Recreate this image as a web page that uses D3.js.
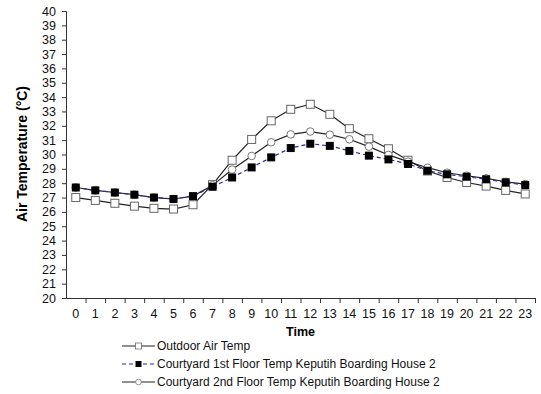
<!DOCTYPE html>
<html>
<head>
<meta charset="utf-8">
<script src="https://cdn.jsdelivr.net/npm/d3@7"></script>
<style>
  body { margin: 0; background: #fff; }
  svg { font-family: "Liberation Sans", Arial, sans-serif; }
</style>
</head>
<body>
<svg id="chart" width="541" height="394"></svg>
<script>
// hours of the day
var hours = d3.range(0, 24);
var yTicks = d3.range(20, 41);

var outdoorTemp = [27.0, 26.8, 26.6, 26.4, 26.25, 26.2, 26.5, 27.9, 29.6, 31.05, 32.35, 33.15, 33.5, 32.8, 31.8,
                   31.1, 30.4, 29.6, 28.85, 28.4, 28.05, 27.8, 27.5, 27.25];
var floor1Temp = [27.7, 27.5, 27.35, 27.2, 27.0, 26.9, 27.1, 27.75, 28.4, 29.1, 29.8, 30.45, 30.75, 30.6, 30.25,
                  29.92, 29.66, 29.34, 28.87, 28.62, 28.45, 28.27, 28.06, 27.87];
var floor2Temp = [27.7, 27.5, 27.35, 27.2, 27.0, 26.9, 27.1, 27.85, 28.95, 29.9, 30.85, 31.4, 31.6, 31.38, 31.06,
                  30.55, 29.97, 29.5, 29.08, 28.73, 28.52, 28.34, 28.1, 27.94];

var seriesNames = ["Outdoor Air Temp",
                   "Courtyard 1st Floor Temp Keputih Boarding House 2",
                   "Courtyard 2nd Floor Temp Keputih Boarding House 2"];

var margin = {top: 11, right: 6, bottom: 96, left: 66},
    width = 541,
    height = 394,
    innerW = width - margin.left - margin.right,
    innerH = height - margin.top - margin.bottom;

var svg = d3.select("#chart");
var g = svg.append("g").attr("transform", "translate(" + margin.left + "," + margin.top + ")");

var x = d3.scaleBand().domain(hours).range([0, innerW]).padding(0);
var xEdge = d3.scaleLinear().domain([0, 24]).range([0, innerW]);
var y = d3.scaleLinear().domain([20, 40]).range([innerH, 0]);
var cx = function(i) { return x(i) + x.bandwidth() / 2; };

// y axis
var yAx = g.append("g")
    .call(d3.axisLeft(y).tickValues(yTicks).tickSize(4).tickPadding(6).tickFormat(d3.format("d")));
yAx.select(".domain").attr("stroke", "#333");
yAx.selectAll(".tick line").attr("stroke", "#333");
yAx.selectAll("text").attr("font-size", 12.5).attr("fill", "#111");

// x axis: ticks on category edges, labels centred
var xAx = g.append("g").attr("transform", "translate(0," + innerH + ")")
    .call(d3.axisBottom(xEdge).tickValues(d3.range(0, 25)).tickSize(5).tickFormat(""));
xAx.select(".domain").attr("d", "M0,0.5H" + innerW).attr("stroke", "#333");
xAx.selectAll(".tick line").attr("stroke", "#333");
xAx.selectAll(".tick").filter(function(d) { return d === 0; }).remove();

var xLab = g.append("g").attr("transform", "translate(0," + innerH + ")")
    .call(d3.axisBottom(x).tickSize(0).tickPadding(11));
xLab.select(".domain").remove();
xLab.selectAll("text").attr("font-size", 12.5).attr("fill", "#111");

// axis titles
g.append("text")
    .attr("x", innerW / 2).attr("y", innerH + 38)
    .attr("text-anchor", "middle")
    .attr("font-size", 12.5).attr("font-weight", "bold")
    .text("Time");

svg.append("text")
    .attr("transform", "translate(27," + 154 + ") rotate(-90)")
    .attr("text-anchor", "middle")
    .attr("font-size", 14).attr("font-weight", "bold")
    .text("Air Temperature (°C)");

var line = d3.line().x(function(d, i) { return cx(i); }).y(function(d) { return y(d); });

// markers
function squareOpen(sel) {
    sel.append("rect").attr("width", 8).attr("height", 8).attr("x", -4).attr("y", -4)
        .attr("fill", "#fff").attr("stroke", "#666").attr("stroke-width", 1);
}
function squareFilled(sel) {
    sel.append("rect").attr("width", 8).attr("height", 8).attr("x", -4).attr("y", -4)
        .attr("fill", "#000");
}
function circleOpen(sel) {
    sel.append("circle").attr("r", 3.8)
        .attr("fill", "#fff").attr("stroke", "#777").attr("stroke-width", 1);
}

var series = [
    {name: seriesNames[0], values: outdoorTemp, stroke: "#222", dash: null, marker: squareOpen},
    {name: seriesNames[2], values: floor2Temp, stroke: "#222", dash: null, marker: circleOpen},
    {name: seriesNames[1], values: floor1Temp, stroke: "#2a2aa0", dash: "4,3", marker: squareFilled}
];

series.forEach(function(s) {
    g.append("path").datum(s.values)
        .attr("fill", "none").attr("stroke", s.stroke).attr("stroke-width", 1.2)
        .attr("stroke-dasharray", s.dash)
        .attr("d", line);
    g.append("g").selectAll("g").data(s.values).enter().append("g")
        .attr("transform", function(d, i) { return "translate(" + cx(i) + "," + y(d) + ")"; })
        .call(s.marker);
});

// legend
var legendOrder = [series[0], series[2], series[1]];
var legend = svg.append("g").attr("transform", "translate(122,346)");
legendOrder.forEach(function(s, i) {
    var row = legend.append("g").attr("transform", "translate(0," + (i * 18) + ")");
    row.append("line").attr("x1", 0).attr("x2", 33).attr("y1", 0).attr("y2", 0)
        .attr("stroke", s.stroke).attr("stroke-width", 1.2).attr("stroke-dasharray", s.dash);
    var m = row.append("g").attr("transform", "translate(16.5,0) scale(0.75)");
    s.marker(m);
    row.append("text").attr("x", 35).attr("y", 4)
        .attr("font-size", 12).attr("fill", "#111")
        .text(s.name);
});
</script>
</body>
</html>
